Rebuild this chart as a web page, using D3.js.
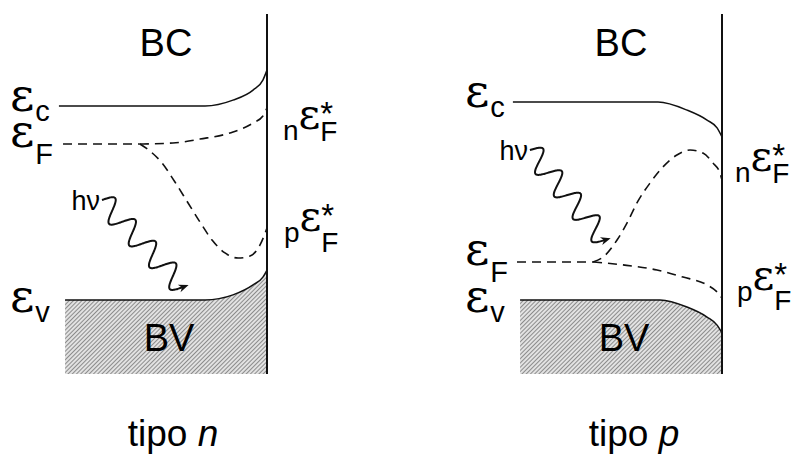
<!DOCTYPE html>
<html>
<head>
<meta charset="utf-8">
<script src="https://cdn.jsdelivr.net/npm/d3@7"></script>
<style>
  body { margin: 0; background: #fff; }
  svg { display: block; }
</style>
</head>
<body>
<div id="chart"></div>
<script>
// x = distance 0..100 (100 = surface), E in units of the band gap (Ev bulk = 0, Ec bulk ~ 1)
const panelTypes = ["n", "p"];

// tipo n
const ecN  = [[-1.5, 0.990], [69.8, 0.990], [83.4, 1.020], [93.2, 1.071], [98.0, 1.122], [100, 1.173]];
const evN  = [[1.5, 0.0], [69.8, 0.0], [83.4, 0.026], [93.2, 0.077], [98.0, 0.117], [100, 0.153]];
const efN  = [[0.5, 0.796], [38.0, 0.796]];
const nEfN = [[38.0, 0.796], [54.1, 0.801], [67.3, 0.821], [83.4, 0.857], [93.2, 0.903], [98.0, 0.939], [100, 0.980]];
const pEfN = [[38.0, 0.796], [42.9, 0.760], [48.8, 0.699], [55.1, 0.602], [61.5, 0.495], [67.3, 0.398],
              [73.2, 0.306], [79.5, 0.240], [85.9, 0.214], [91.7, 0.224], [96.6, 0.281], [100, 0.367]];
const photonN = [[19.5, 0.510], [59.0, 0.066]];

// tipo p
const ecP  = [[-2.0, 1.010], [68.8, 1.010], [82.9, 0.969], [92.7, 0.918], [97.6, 0.878], [100, 0.832]];
const evP  = [[1.5, 0.0], [69.8, 0.0], [82.9, -0.036], [92.7, -0.087], [97.6, -0.128], [100, -0.168]];
const efP  = [[0.0, 0.194], [37.1, 0.194]];
const nEfP = [[37.1, 0.194], [42.0, 0.219], [48.8, 0.306], [53.7, 0.393], [58.5, 0.495], [64.9, 0.597],
              [71.2, 0.679], [78.0, 0.740], [84.4, 0.765], [90.7, 0.750], [95.6, 0.699], [99.0, 0.648], [100, 0.612]];
const pEfP = [[37.1, 0.194], [51.7, 0.179], [68.3, 0.153], [81.0, 0.117], [92.7, 0.077], [97.6, 0.041], [100, 0.010]];
const photonP = [[6.3, 0.765], [42.9, 0.306]];

const energyTop = 1.459, energyBottom = -0.378;

const bandLabels = ["BC", "BV"];
const levelSubs = ["c", "F", "v"];
const panelData = [
  { type: "n", ec: ecN, ev: evN, ef: efN, nEf: nEfN, pEf: pEfN, photon: photonN },
  { type: "p", ec: ecP, ev: evP, ef: efP, nEf: nEfP, pEf: pEfP, photon: photonP }
];

const width = 793, height = 455;
const svg = d3.select("#chart").append("svg")
  .attr("width", width).attr("height", height)
  .style("font-family", "'Liberation Sans', Arial, sans-serif");

const defs = svg.append("defs");
const pat = defs.append("pattern")
  .attr("id", "hatch").attr("patternUnits", "userSpaceOnUse")
  .attr("width", 3).attr("height", 3)
  .attr("patternTransform", "rotate(45)");
pat.append("rect").attr("width", 3).attr("height", 3).attr("fill", "#e2e2e2");
pat.append("line").attr("x1", 0.5).attr("y1", 0).attr("x2", 0.5).attr("y2", 3)
  .attr("stroke", "#8c8c8c").attr("stroke-width", 1);

const yScale = d3.scaleLinear().domain([0, 1]).range([300, 104]);
const panelX = [62, 517];
const panelW = 205;
const captionX = [173, 634];
const epsFont = "'DejaVu Serif', 'Liberation Serif', serif";

// label baselines for the quasi-Fermi levels (per panel)
const qLabelPos = [
  { n: { x: 283, y: 129, sub: 12 }, p: { x: 284, y: 231, sub: 21 } },
  { n: { x: 735, y: 171, sub: 12 }, p: { x: 737, y: 290, sub: 20 } }
];

function eps(g, x, y, sub, subDy) {
  const t = g.append("text").attr("x", x).attr("y", y);
  t.append("tspan").style("font-family", epsFont).style("font-size", "47px").text("\u03B5");
  t.append("tspan").attr("dx", 1).attr("y", y + subDy).style("font-size", "29px").text(sub);
}

function quasiLabel(g, pos, pre) {
  const t = g.append("text").attr("x", pos.x).attr("y", pos.y + 11);
  t.append("tspan").style("font-size", "28px").text(pre);
  t.append("tspan").attr("y", pos.y).style("font-family", epsFont).style("font-size", "42px").text("\u03B5");
  t.append("tspan").attr("y", pos.y - 4).style("font-size", "33px").text("*");
  t.append("tspan").attr("dx", -13).attr("y", pos.y + pos.sub).style("font-size", "28px").text("F");
}

function photon(g, p1, p2) {
  const [x1, y1] = p1, [x2, y2] = p2;
  const dx = x2 - x1, dy = y2 - y1, L = Math.hypot(dx, dy);
  const ux = dx / L, uy = dy / L, nx = uy, ny = -ux;
  const k = 4, A = 11;
  const pts = d3.range(0, 1.0001, 1 / 300).map(t => {
    const s = A * Math.sin(2 * Math.PI * k * t);
    return [x1 + dx * t + s * nx, y1 + dy * t + s * ny];
  });
  g.append("path").attr("d", d3.line().curve(d3.curveBasis)(pts))
    .attr("fill", "none").attr("stroke", "#111").attr("stroke-width", 2);
  const tx = dx + A * 2 * Math.PI * k * nx, ty = dy + A * 2 * Math.PI * k * ny;
  const tl = Math.hypot(tx, ty), ax = tx / tl, ay = ty / tl;
  const tip = [x2 + ax * 6, y2 + ay * 6];
  const base = [tip[0] - ax * 10, tip[1] - ay * 10];
  g.append("path")
    .attr("d", `M${tip}L${base[0] - ay * 4},${base[1] + ax * 4}L${base[0] + ax * 3},${base[1] + ay * 3}L${base[0] + ay * 4},${base[1] - ax * 4}Z`)
    .attr("fill", "#111");
}

panelData.forEach((pd, i) => {
  const x0 = panelX[i];
  const xScale = d3.scaleLinear().domain([0, 100]).range([x0, x0 + panelW]);
  const g = svg.append("g");
  const line = d3.line().x(d => xScale(d[0])).y(d => yScale(d[1])).curve(d3.curveMonotoneX);

  // valence band (hatched)
  const area = d3.area().x(d => xScale(d[0])).y0(yScale(energyBottom)).y1(d => yScale(d[1])).curve(d3.curveMonotoneX);
  g.append("path").attr("d", area(pd.ev)).attr("fill", "url(#hatch)");
  g.append("path").attr("d", line(pd.ev)).attr("fill", "none").attr("stroke", "#111").attr("stroke-width", 1.5);

  // conduction band
  g.append("path").attr("d", line(pd.ec)).attr("fill", "none").attr("stroke", "#111").attr("stroke-width", 1.5);

  // Fermi levels (dashed)
  [pd.ef, pd.nEf, pd.pEf].forEach(arr => {
    g.append("path").attr("d", line(arr)).attr("fill", "none")
      .attr("stroke", "#111").attr("stroke-width", 1.6).attr("stroke-dasharray", "9,6");
  });

  // surface
  g.append("line")
    .attr("x1", xScale(100)).attr("x2", xScale(100))
    .attr("y1", yScale(energyTop)).attr("y2", yScale(energyBottom))
    .attr("stroke", "#111").attr("stroke-width", 2);

  // band names
  g.append("text").attr("x", x0 + 104).attr("y", 56).attr("text-anchor", "middle")
    .style("font-size", "38px").text(bandLabels[0]);
  g.append("text").attr("x", x0 + 107).attr("y", 351).attr("text-anchor", "middle")
    .style("font-size", "38px").text(bandLabels[1]);

  // level labels
  const lx = x0 - 52;
  eps(g, lx, yScale(pd.ec[0][1]) + 5, levelSubs[0], 10);
  eps(g, lx, yScale(pd.ef[0][1]) + 3, levelSubs[1], 17);
  eps(g, lx, yScale(0) + 12, levelSubs[2], 10);

  quasiLabel(g, qLabelPos[i].n, "n");
  quasiLabel(g, qLabelPos[i].p, "p");

  // photon
  const p1 = [xScale(pd.photon[0][0]), yScale(pd.photon[0][1])];
  const p2 = [xScale(pd.photon[1][0]), yScale(pd.photon[1][1])];
  photon(g, p1, p2);
  g.append("text").attr("x", p1[0] - 2).attr("y", p1[1] + 10).attr("text-anchor", "end")
    .style("font-size", "27px").text("h\u03BD");

  // panel caption
  const cap = g.append("text").attr("x", captionX[i]).attr("y", 446).attr("text-anchor", "middle")
    .style("font-size", "37px");
  cap.append("tspan").text("tipo ");
  cap.append("tspan").style("font-style", "italic").text(pd.type);
});
</script>
</body>
</html>
